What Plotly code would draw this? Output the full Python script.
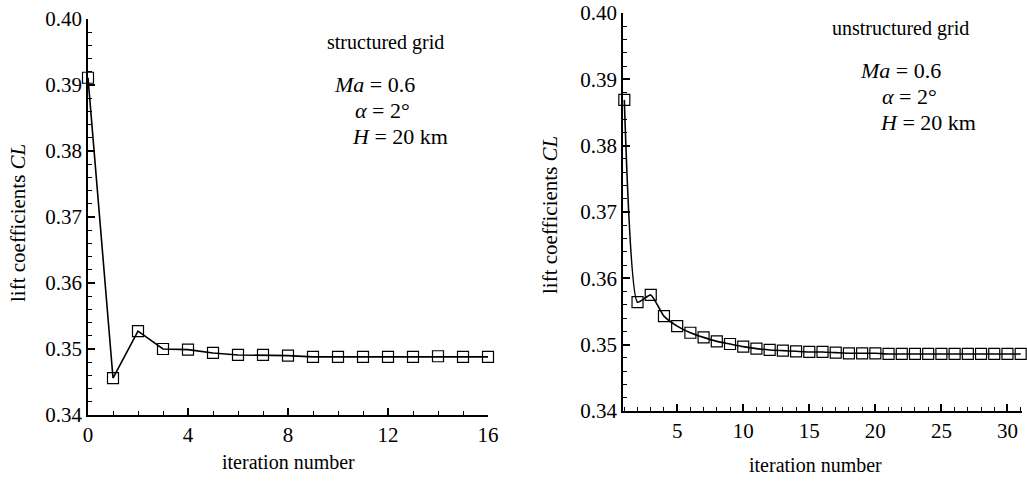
import plotly.graph_objects as go

# ---- data ----
iter_structured = list(range(0, 17))
cl_structured = [0.3911, 0.3456, 0.3527, 0.3500, 0.3499, 0.3494, 0.3491, 0.3491,
                 0.3490, 0.3488, 0.3488, 0.3488, 0.3488, 0.3488, 0.3489, 0.3488, 0.3488]

iter_unstructured = list(range(1, 32))
cl_unstructured = [0.3869, 0.3564, 0.3575, 0.3543, 0.3528, 0.3518, 0.3511, 0.3505,
                   0.3501, 0.3497, 0.3494, 0.3492, 0.3491, 0.3490, 0.3489, 0.3489,
                   0.3488, 0.3487, 0.3487, 0.3487, 0.3486, 0.3486, 0.3486, 0.3486,
                   0.3486, 0.3486, 0.3486, 0.3486, 0.3486, 0.3486, 0.3486]

y_ticks = [0.34, 0.35, 0.36, 0.37, 0.38, 0.39, 0.40]

FONT = "Liberation Serif"
W, H = 1027, 481

fig = go.Figure()

marker = dict(symbol="square-open", size=11, color="black", line=dict(width=1.2, color="black"))

fig.add_trace(go.Scatter(x=iter_structured, y=cl_structured, mode="lines+markers",
                         line=dict(color="black", width=1.6), marker=marker,
                         cliponaxis=False, xaxis="x", yaxis="y", showlegend=False))
fig.add_trace(go.Scatter(x=iter_unstructured, y=cl_unstructured, mode="lines+markers",
                         line=dict(color="black", width=1.6, shape="spline", smoothing=0.5),
                         marker=marker, cliponaxis=False, xaxis="x2", yaxis="y2",
                         showlegend=False))

def px_x(p):
    return p / W

def px_y(p):
    return (H - p) / H

common_axis = dict(showline=True, linecolor="black", linewidth=1.6, showgrid=False,
                   zeroline=False, ticks="inside", ticklen=7, tickwidth=1.5,
                   tickcolor="black", tickfont=dict(family=FONT, size=21, color="black"),
                   mirror=False, automargin=False, ticklabeloverflow="allow")

fig.update_layout(
    width=W, height=H, margin=dict(l=0, r=0, t=0, b=0, autoexpand=False),
    paper_bgcolor="white", plot_bgcolor="white",
    font=dict(family=FONT, color="black"),
    xaxis=dict(domain=[px_x(88), px_x(488)], range=[0, 16], tick0=0, dtick=4,
               minor=dict(dtick=1, ticks="inside", ticklen=4, tickcolor="black", tickwidth=1),
               anchor="y", **common_axis),
    yaxis=dict(domain=[px_y(415), px_y(19)], range=[0.34, 0.40], tickvals=y_ticks,
               tickformat=".2f",
               minor=dict(dtick=0.002, tick0=0.34, ticks="inside", ticklen=4, tickcolor="black", tickwidth=1),
               anchor="x", **common_axis),
    xaxis2=dict(domain=[px_x(623), px_x(1022)], range=[0.9, 31.1], tick0=0, dtick=5,
                minor=dict(dtick=1, tick0=0, ticks="inside", ticklen=4, tickcolor="black", tickwidth=1),
                anchor="y2", **common_axis),
    yaxis2=dict(domain=[px_y(411), px_y(13)], range=[0.34, 0.40], tickvals=y_ticks,
                tickformat=".2f",
                minor=dict(dtick=0.002, tick0=0.34, ticks="inside", ticklen=4, tickcolor="black", tickwidth=1),
                anchor="x2", **common_axis),
)

def ann(text, x, y, size=17, xanchor="left", angle=0):
    fig.add_annotation(text=text, x=px_x(x), y=px_y(y), xref="paper", yref="paper",
                       showarrow=False, xanchor=xanchor, yanchor="middle", textangle=angle,
                       font=dict(family=FONT, size=size, color="black"))

# axis titles
ann("iteration number", 288, 462, size=20, xanchor="center")
ann("iteration number", 815, 465, size=20, xanchor="center")
ann("lift coefficients <i>CL</i>", 18, 223, size=21, xanchor="center", angle=-90)
ann("lift coefficients <i>CL</i>", 550, 215, size=21, xanchor="center", angle=-90)

# left annotations
ann("structured grid", 325, 43, size=20)
ann("<i>Ma</i> = 0.6", 332, 85, size=22)
ann("<i>α</i> = 2°", 353, 110, size=22)
ann("<i>H</i> = 20 km", 350, 137, size=22)

# right annotations
ann("unstructured grid", 830, 28, size=20)
ann("<i>Ma</i> = 0.6", 858, 70, size=22)
ann("<i>α</i> = 2°", 880, 97, size=22)
ann("<i>H</i> = 20 km", 878, 123, size=22)

fig.write_html("out.html", config={"displayModeBar": False},
               post_script="document.body.style.margin='0px';document.body.style.overflow='hidden';")
